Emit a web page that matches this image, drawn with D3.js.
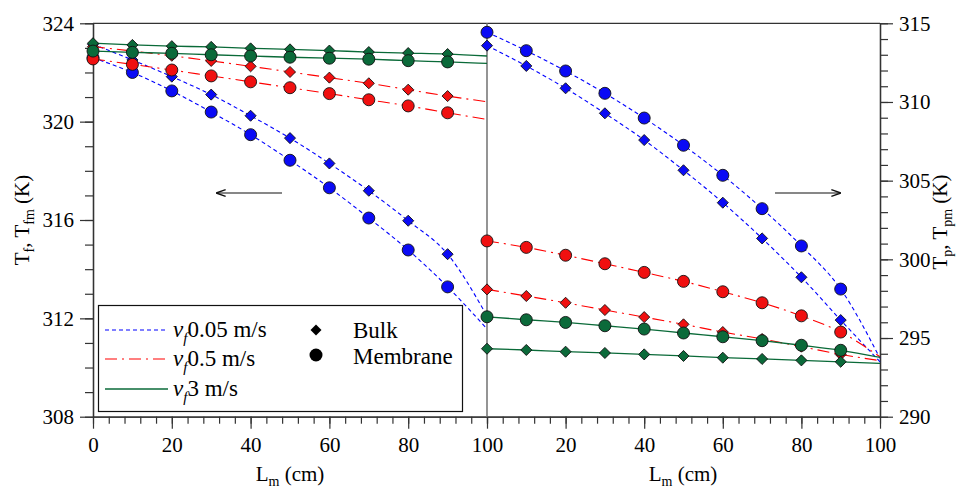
<!DOCTYPE html>
<html>
<head>
<meta charset="utf-8">
<script src="https://cdn.jsdelivr.net/npm/d3@7"></script>
<style>
  body { margin: 0; background: #fff; }
  svg, svg text { font-family: "Liberation Serif", "Times New Roman", Times, "DejaVu Serif", serif; }
</style>
</head>
<body>
<div id="chart"></div>
<script>
// positions along the module (cm)
const xLine = [0, 10, 20, 30, 40, 50, 60, 70, 80, 90, 100];
const xMarks = [0, 10, 20, 30, 40, 50, 60, 70, 80, 90];

// feed side (left panel), K
const fBulk005 = [323.15, 322.51, 321.83, 321.10, 320.24, 319.33, 318.30, 317.19, 315.97, 314.61, 312.10];
const fMem005 = [322.60, 322.00, 321.25, 320.39, 319.47, 318.43, 317.31, 316.08, 314.78, 313.28, 311.57];
const fBulk05 = [323.05, 322.87, 322.68, 322.47, 322.25, 322.02, 321.79, 321.56, 321.30, 321.04, 320.81];
const fMem05 = [322.55, 322.33, 322.10, 321.86, 321.62, 321.38, 321.14, 320.89, 320.64, 320.36, 320.09];
const fBulk3 = [323.19, 323.12, 323.07, 323.04, 322.98, 322.94, 322.89, 322.83, 322.79, 322.75, 322.67];
const fMem3 = [322.87, 322.82, 322.78, 322.72, 322.67, 322.62, 322.58, 322.54, 322.48, 322.43, 322.37];

// permeate side (right panel), K
const pBulk005 = [313.58, 312.29, 310.87, 309.28, 307.58, 305.66, 303.60, 301.33, 298.86, 296.14, 293.49];
const pMem005 = [314.43, 313.26, 311.97, 310.55, 308.98, 307.25, 305.34, 303.22, 300.85, 298.11, 293.71];
const pBulk05 = [298.09, 297.67, 297.24, 296.78, 296.33, 295.87, 295.38, 294.94, 294.45, 293.96, 293.56];
const pMem05 = [301.17, 300.76, 300.26, 299.72, 299.17, 298.60, 297.94, 297.24, 296.41, 295.38, 293.81];
const pBulk3 = [294.32, 294.24, 294.13, 294.05, 293.96, 293.86, 293.75, 293.67, 293.58, 293.49, 293.39];
const pMem3 = [296.35, 296.16, 295.99, 295.78, 295.57, 295.32, 295.08, 294.83, 294.54, 294.22, 293.77];

const speeds = ["0.05 m/s", "0.5 m/s", "3 m/s"];
const leftTicks = [308, 312, 316, 320, 324];
const rightTicks = [290, 295, 300, 305, 310, 315];
const xTicksLeft = [0, 20, 40, 60, 80, 100];
const xTicksRight = [20, 40, 60, 80, 100];

const FONT = '"Liberation Serif", "Times New Roman", Times, "DejaVu Serif", serif';
const BLUE = "#0000ff", RED = "#ff0000", GREEN = "#0a6a38";
const styles = [
  { color: BLUE, fill: "#0a0af5", dash: "4,3", width: 1.1 },
  { color: RED, fill: "#f01010", dash: "12,5,2,5", width: 1.1 },
  { color: GREEN, fill: "#0b6a3a", dash: null, width: 1.3 }
];

const width = 966, height = 489;
const x0 = 93, xm = 487, x1 = 880, yTop = 23.3, yBot = 416.7;

const svg = d3.select("#chart").append("svg")
  .attr("width", width).attr("height", height)
  .attr("font-family", FONT);

let xL = d3.scaleLinear().domain([0, 100]).range([x0, xm]);
let xR = d3.scaleLinear().domain([0, 100]).range([xm, x1]);
let yL = d3.scaleLinear().domain([308, 324]).range([yBot, yTop]);
let yR = d3.scaleLinear().domain([290, 315]).range([yBot, yTop]);

const AX = "#333";

function styleAxis(g) {
  g.attr("font-family", FONT);
  g.selectAll("path.domain").attr("stroke", AX).attr("stroke-width", 1.3);
  g.selectAll(".tick line").attr("stroke", AX).attr("stroke-width", 1.2);
  g.selectAll(".tick text").attr("fill", "#000").style("font-size", "21px");
}

// minor ticks first
svg.append("g").attr("transform", `translate(${x0},0)`)
  .call(d3.axisLeft(yL).tickValues(d3.range(308, 325, 1)).tickSize(8).tickFormat("").tickSizeOuter(0))
  .call(styleAxis);
svg.append("g").attr("transform", `translate(${x0},0)`)
  .call(d3.axisLeft(yL).tickValues(leftTicks).tickSize(13).tickPadding(6).tickSizeOuter(0).tickFormat(d3.format("d")))
  .call(styleAxis);

svg.append("g").attr("transform", `translate(${x1},0)`)
  .call(d3.axisRight(yR).tickValues(d3.range(290, 316, 1)).tickSize(8).tickFormat("").tickSizeOuter(0))
  .call(styleAxis);
svg.append("g").attr("transform", `translate(${x1},0)`)
  .call(d3.axisRight(yR).tickValues(rightTicks).tickSize(13).tickPadding(6).tickSizeOuter(0).tickFormat(d3.format("d")))
  .call(styleAxis);

[[xL, xTicksLeft], [xR, xTicksRight]].forEach(function ([sc, tv]) {
  svg.append("g").attr("transform", `translate(0,${yBot})`)
    .call(d3.axisBottom(sc).tickValues(d3.range(0, 101, 4)).tickSize(7).tickFormat("").tickSizeOuter(0))
    .call(styleAxis);
  svg.append("g").attr("transform", `translate(0,${yBot})`)
    .call(d3.axisBottom(sc).tickValues(tv).tickSize(12).tickPadding(8).tickSizeOuter(0))
    .call(styleAxis);
});

// frame: top line and middle separator
svg.append("line").attr("x1", x0).attr("x2", x1).attr("y1", yTop).attr("y2", yTop)
  .attr("stroke", AX).attr("stroke-width", 1.3);
svg.append("line").attr("x1", xm).attr("x2", xm).attr("y1", yTop).attr("y2", yBot)
  .attr("stroke", "#7a7a7a").attr("stroke-width", 1.6);

function drawPanel(sx, sy, bulk, mem) {
  const g = svg.append("g");
  bulk.forEach(function (vals, i) {
    const st = styles[i];
    [vals, mem[i]].forEach(function (v) {
      const line = d3.line()
        .x((d, j) => sx(xLine[j]))
        .y(d => sy(d))
        .curve(d3.curveMonotoneX);
      g.append("path").datum(v).attr("d", line)
        .attr("fill", "none").attr("stroke", st.color)
        .attr("stroke-width", st.width)
        .attr("stroke-dasharray", st.dash);
    });
  });
  bulk.forEach(function (vals, i) {
    const st = styles[i];
    g.selectAll(null).data(xMarks).join("path")
      .attr("d", d3.symbol(d3.symbolDiamond2, 78))
      .attr("transform", (d, j) => `translate(${sx(d)},${sy(vals[j])})`)
      .attr("fill", st.fill).attr("stroke", "#111").attr("stroke-width", 0.9);
    g.selectAll(null).data(xMarks).join("circle")
      .attr("cx", d => sx(d))
      .attr("cy", (d, j) => sy(mem[i][j]))
      .attr("r", 6)
      .attr("fill", st.fill).attr("stroke", "#111").attr("stroke-width", 0.9);
  });
}

drawPanel(xL, yL, [fBulk005, fBulk05, fBulk3], [fMem005, fMem05, fMem3]);
drawPanel(xR, yR, [pBulk005, pBulk05, pBulk3], [pMem005, pMem05, pMem3]);

// axis titles
[290, 683].forEach(function (cx) {
  const t = svg.append("text").attr("x", cx).attr("y", 481)
    .attr("text-anchor", "middle").style("font-size", "21px");
  t.append("tspan").text("L");
  t.append("tspan").attr("dy", 5).style("font-size", "14px").text("m");
  t.append("tspan").attr("dy", -5).text(" (cm)");
});

function yTitle(cx, cy, sub1, sub2) {
  const t = svg.append("text")
    .attr("transform", `translate(${cx},${cy}) rotate(-90)`)
    .attr("text-anchor", "middle").style("font-size", "21px");
  t.append("tspan").text("T");
  t.append("tspan").attr("dy", 5).style("font-size", "14px").text(sub1);
  t.append("tspan").attr("dy", -5).text(", T");
  t.append("tspan").attr("dy", 5).style("font-size", "14px").text(sub2);
  t.append("tspan").attr("dy", -5).text(" (K)");
}
yTitle(29, 220, "f", "fm");
yTitle(947, 222, "p", "pm");

// direction arrows
svg.append("defs").append("marker")
  .attr("id", "arr").attr("viewBox", "0 0 10 10").attr("refX", 9).attr("refY", 5)
  .attr("markerWidth", 8).attr("markerHeight", 8).attr("orient", "auto")
  .append("path").attr("d", "M0,1.5 L10,5 L0,8.5").attr("fill", "none")
  .attr("stroke", "#111").attr("stroke-width", 1.4);
svg.append("line").attr("x1", 282).attr("x2", 217).attr("y1", 193).attr("y2", 193)
  .attr("stroke", "#111").attr("stroke-width", 1.2).attr("marker-end", "url(#arr)");
svg.append("line").attr("x1", 775).attr("x2", 840).attr("y1", 193).attr("y2", 193)
  .attr("stroke", "#111").attr("stroke-width", 1.2).attr("marker-end", "url(#arr)");

// legend
const lg = svg.append("g");
lg.append("rect").attr("x", 98.5).attr("y", 305.5).attr("width", 364).attr("height", 106)
  .attr("fill", "#fff").attr("stroke", "#111").attr("stroke-width", 1.2);
const legY = [330, 359, 389];
speeds.forEach(function (s, i) {
  const st = styles[i];
  lg.append("line").attr("x1", 105).attr("x2", 168).attr("y1", legY[i]).attr("y2", legY[i])
    .attr("stroke", st.color).attr("stroke-width", st.width).attr("stroke-dasharray", st.dash);
  const t = lg.append("text").attr("x", 173).attr("y", legY[i] + 7).style("font-size", "23px");
  t.append("tspan").style("font-style", "italic").text("v");
  t.append("tspan").attr("dy", 6).style("font-style", "italic").style("font-size", "15px").text("f");
  t.append("tspan").attr("dy", -6).text(s);
});
lg.append("path").attr("d", d3.symbol(d3.symbolDiamond2, 78))
  .attr("transform", "translate(316,330)").attr("fill", "#000");
lg.append("circle").attr("cx", 316).attr("cy", 355).attr("r", 6.5).attr("fill", "#000");
lg.append("text").attr("x", 353).attr("y", 338).style("font-size", "23px").text("Bulk");
lg.append("text").attr("x", 353).attr("y", 364).style("font-size", "23px").text("Membrane");
</script>
</body>
</html>
